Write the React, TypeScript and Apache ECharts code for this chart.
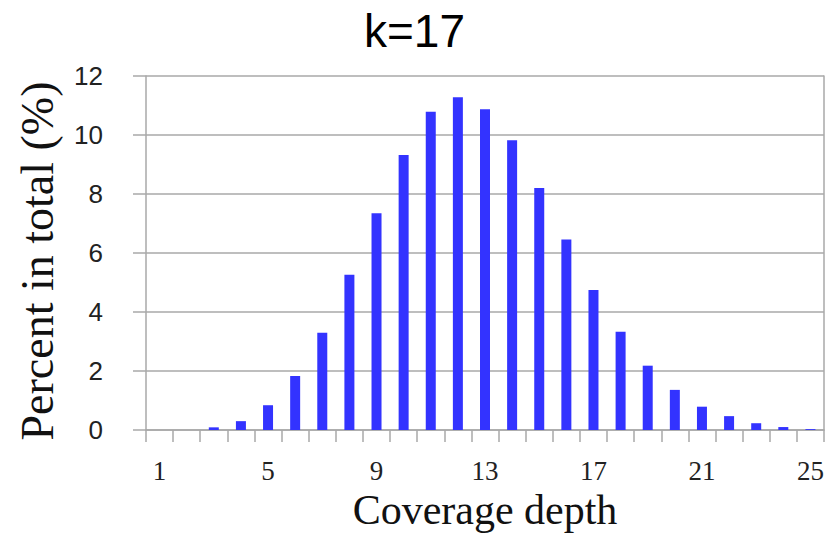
import React, { useEffect, useRef } from "react";
import * as echarts from "echarts";

const categories = [
  "1", "2", "3", "4", "5", "6", "7", "8", "9", "10", "11", "12", "13",
  "14", "15", "16", "17", "18", "19", "20", "21", "22", "23", "24", "25",
];
const percentValues = [
  0, 0, 0.09, 0.3, 0.84, 1.83, 3.3, 5.26, 7.35, 9.32, 10.79, 11.28, 10.87,
  9.82, 8.2, 6.46, 4.75, 3.33, 2.18, 1.36, 0.79, 0.47, 0.23, 0.1, 0.03,
];
const titleText = "k=17";
const xAxisName = "Coverage depth";
const yAxisName = "Percent in total (%)";

const AXIS_GREY = "#a8a8a8";

export default function App() {
  const ref = useRef<HTMLDivElement>(null);
  useEffect(() => {
    if (!ref.current) return;
    const chart = echarts.init(ref.current, undefined, { renderer: "svg" });
    chart.setOption({
      animation: false,
      backgroundColor: "#ffffff",
      title: {
        text: titleText,
        left: "center",
        top: 3,
        textStyle: {
          fontFamily: "Liberation Sans",
          fontSize: 46,
          fontWeight: "normal",
          color: "#000",
        },
      },
      grid: {
        left: 146,
        right: 5,
        top: 76,
        bottom: 104,
        containLabel: false,
        outerBoundsMode: "none",
      },
      xAxis: {
        type: "category",
        data: categories,
        boundaryGap: true,
        name: xAxisName,
        nameLocation: "middle",
        nameGap: 59,
        nameMoveOverlap: false,
        nameTextStyle: {
          fontFamily: "Liberation Serif",
          fontSize: 42,
          lineHeight: 42,
          color: "#111",
        },
        axisLine: { show: true, lineStyle: { color: AXIS_GREY, width: 1.5 } },
        axisTick: {
          show: true,
          interval: 0,
          length: 12,
          lineStyle: { color: AXIS_GREY, width: 1.5 },
        },
        axisLabel: {
          interval: 3,
          margin: 28,
          fontFamily: "Liberation Serif",
          fontSize: 27,
          lineHeight: 26,
          color: "#222",
        },
        splitLine: { show: false },
      },
      yAxis: [
        {
          type: "value",
          min: 0,
          max: 12,
          interval: 2,
          name: yAxisName,
          nameLocation: "middle",
          nameGap: 86,
          nameMoveOverlap: false,
          nameTextStyle: {
            fontFamily: "Liberation Serif",
            fontSize: 46,
            color: "#111",
            padding: [0, 16, 0, 0],
          },
          axisLine: { show: true, lineStyle: { color: AXIS_GREY, width: 1.5 } },
          axisTick: {
            show: true,
            length: 13,
            lineStyle: { color: AXIS_GREY, width: 1.5 },
          },
          axisLabel: {
            margin: 43,
            fontFamily: "Liberation Sans",
            fontSize: 26,
            color: "#222",
          },
          splitLine: { show: true, lineStyle: { color: AXIS_GREY, width: 1.5 } },
        },
        {
          type: "value",
          min: 0,
          max: 12,
          interval: 2,
          position: "right",
          axisLine: { show: true, lineStyle: { color: AXIS_GREY, width: 1.5 } },
          axisTick: { show: false },
          axisLabel: { show: false },
          splitLine: { show: false },
        },
      ],
      series: [
        {
          type: "bar",
          data: percentValues,
          barWidth: 10,
          itemStyle: { color: "#3333ff" },
        },
      ],
    });
    return () => chart.dispose();
  }, []);
  return <div ref={ref} style={{ width: 829, height: 534, position: "absolute", left: 0, top: 0 }} />;
}
